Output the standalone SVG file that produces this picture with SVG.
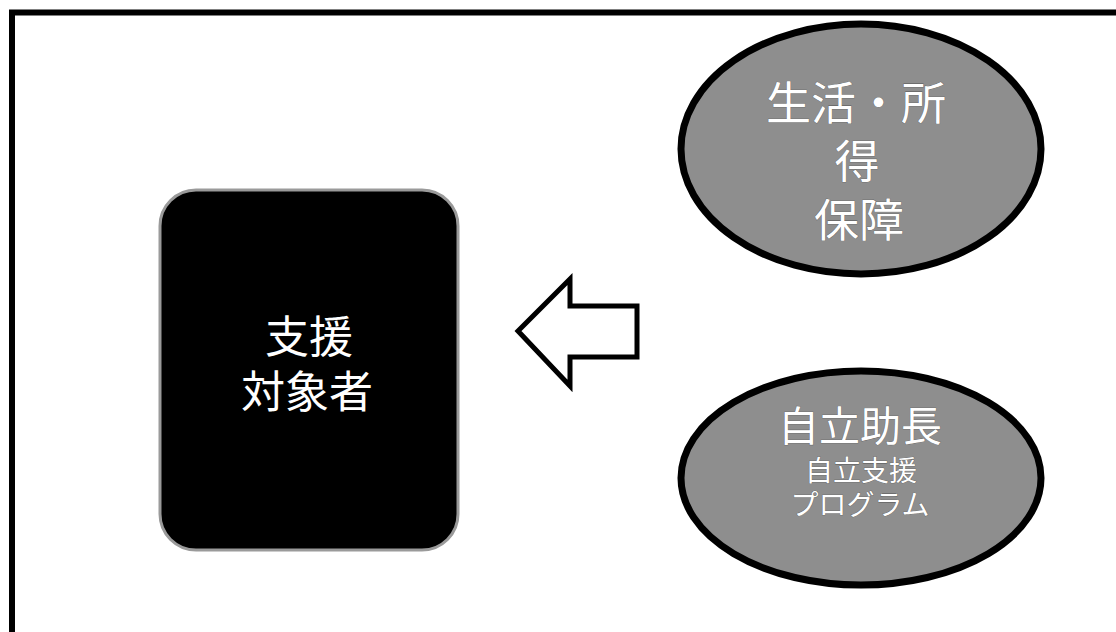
<svg xmlns="http://www.w3.org/2000/svg" width="1116" height="632" viewBox="0 0 1116 632">
  <style>
    .frame { fill: none; stroke: #000; stroke-width: 6; }
    .oval { fill: #8e8e8e; stroke: #000; stroke-width: 7; }
    .box { fill: #000; stroke: #9a9a9a; stroke-width: 3; }
    .arrow { fill: #fff; stroke: #000; stroke-width: 5; stroke-linejoin: miter; }
    .t { font-family: "Noto Sans CJK JP", "Noto Sans", sans-serif; fill: #fff; text-anchor: middle; }
    .tg { stroke: #555; stroke-width: 0.6; paint-order: stroke; }
  </style>
  <rect width="1116" height="632" fill="#fff"/>
  <path class="frame" d="M12,632 V12.5 H1116"/>

  <g id="node-target">
    <rect class="box" x="160" y="190" width="298" height="360" rx="36" ry="36"/>
    <text class="t" x="309" y="353" font-size="44">支援</text>
    <text class="t" x="307" y="408" font-size="44">対象者</text>
  </g>

  <g id="node-income">
    <ellipse class="oval" cx="861" cy="149" rx="180" ry="125"/>
    <text class="t tg" x="856" y="120" font-size="45">生活・所</text>
    <text class="t tg" x="857" y="178" font-size="45">得</text>
    <text class="t tg" x="859" y="237" font-size="45">保障</text>
  </g>

  <g id="node-selfhelp">
    <ellipse class="oval" cx="861" cy="478" rx="180" ry="107"/>
    <text class="t tg" x="860" y="441" font-size="41">自立助長</text>
    <text class="t tg" x="861" y="481" font-size="28">自立支援</text>
    <text class="t tg" x="860" y="515" font-size="28">プログラム</text>
  </g>

  <g id="connectors">
    <polygon class="arrow" points="518,331 570,279 570,306 637,306 637,357 570,357 570,386"/>
  </g>
</svg>
